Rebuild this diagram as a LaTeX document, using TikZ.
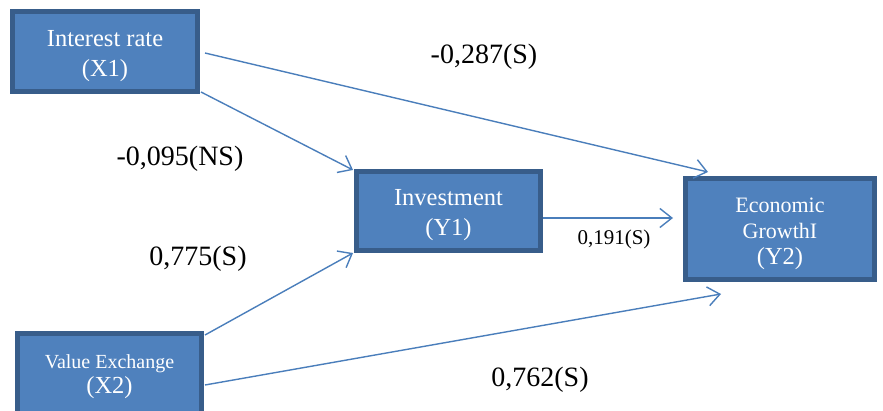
\documentclass[tikz,border=0pt]{standalone}
\usepackage{fontspec}
\setmainfont{Liberation Serif}
\usetikzlibrary{arrows.meta,calc}
\definecolor{boxfill}{HTML}{4F81BD}
\definecolor{boxline}{HTML}{385D8A}
\definecolor{arrowblue}{HTML}{4A7EBB}
\begin{document}
\begin{tikzpicture}[x=1pt,y=-1pt,
  var/.style={draw=boxline, fill=boxfill, line width=5pt, inner sep=0pt},
  vartext/.style={text=white, align=center, inner sep=0pt, yshift=-4.5pt},
  link/.style={draw=arrowblue, line width=1.4pt,
    -{Straight Barb[length=12pt,width=19pt,line width=1.4pt]}},
  coef/.style={font=\fontsize{28}{30}\selectfont, inner sep=0pt}]
\useasboundingbox (0,0) rectangle (883,411);
\clip (0,0) rectangle (883,411);

% variables
\node[var, minimum width=185pt, minimum height=80pt,
  label={[vartext, font=\fontsize{24.5}{30}\selectfont]center:Interest rate\\(X1)}]
  (x1) at (105,51.5) {};
\node[var, minimum width=184pt, minimum height=81pt,
  label={[vartext, font=\fontsize{24.5}{25}\selectfont, yshift=2pt]center:{\fontsize{20}{25}\selectfont Value Exchange}\\(X2)}]
  (x2) at (109.5,374) {};
\node[var, minimum width=184pt, minimum height=79pt,
  label={[vartext, font=\fontsize{24.5}{30}\selectfont]center:Investment\\(Y1)}]
  (y1) at (448.5,211) {};
\node[var, minimum width=189pt, minimum height=101pt,
  label={[vartext, font=\fontsize{22}{26}\selectfont]center:Economic\\GrowthI\\{\fontsize{24.5}{26}\selectfont (Y2)}}]
  (y2) at (780,229) {};

% paths
\draw[link] ($(x1.east)+(5,1.5)$) -- ($(y2.north west)+(25,-4)$);
\draw[link] ($(x1.south east)+(1,-2)$) -- ($(y1.north west)+(-1,1)$);
\draw[link] ($(x2.north east)+(1,4)$) -- ($(y1.south west)+(-1,0)$);
\draw[link] ($(x2.east)+(1,11)$) -- ($(y2.south west)+(38,12)$);
\draw[link] ($(y1.east)+(0,7)$) -- ($(y2.west)+(-10,-11)$);

% coefficients
\node[coef] (c1) at (484,57) {-0,287(S)};
\node[coef] (c2) at (180,159) {-0,095(NS)};
\node[coef] (c3) at (198,259) {0,775(S)};
\node[coef, font=\fontsize{21}{24}\selectfont] (c4) at (614,239) {0,191(S)};
\node[coef] (c5) at (540,380) {0,762(S)};
\end{tikzpicture}
\end{document}
